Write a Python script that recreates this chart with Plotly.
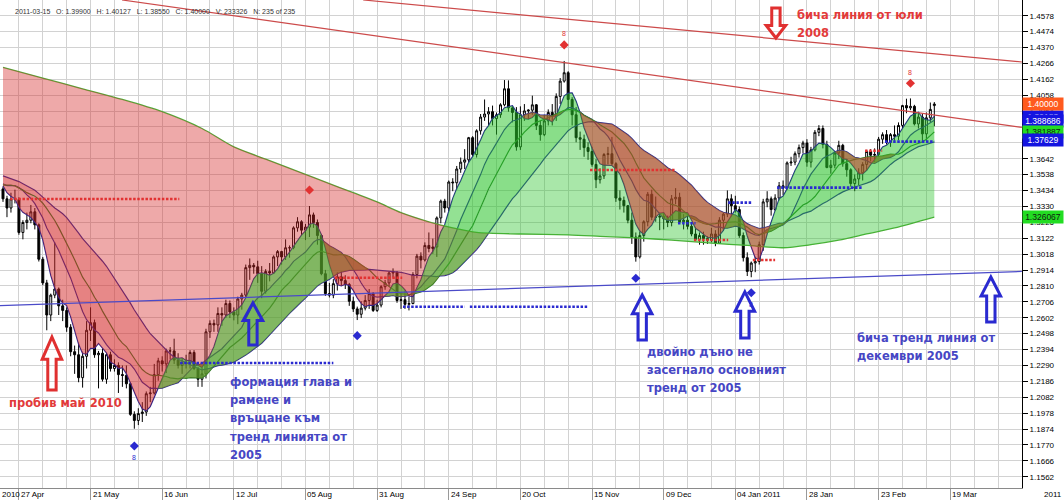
import numpy as np
import pandas as pd
import plotly.graph_objects as go

# ---------------- price data: daily bars 2010-04-21 .. 2011-03-15 (235 bars) ----------------
OPEN = [
    1.3445, 1.3380, 1.3320,
    1.3380, 1.3375, 1.3160, 1.3225, 1.3240,
    1.3295, 1.3210, 1.2985, 1.2830, 1.2620,
    1.2750, 1.2790, 1.2680, 1.2650, 1.2540,
    1.2380, 1.2360, 1.2210, 1.2350, 1.2520,
    1.2570, 1.2360, 1.2370, 1.2200, 1.2360,
    1.2270, 1.2290, 1.2230, 1.2225, 1.2170,
    1.1970, 1.1930, 1.1975, 1.1985, 1.2105,
    1.2110, 1.2230, 1.2320, 1.2300, 1.2385,
    1.2385, 1.2325, 1.2290, 1.2310, 1.2305,
    1.2375, 1.2270, 1.2200, 1.2235, 1.2510,
    1.2565, 1.2555, 1.2630, 1.2620, 1.2695,
    1.2640, 1.2620, 1.2725, 1.2750, 1.2930,
    1.2945, 1.2935, 1.2890, 1.2775, 1.2905,
    1.2895, 1.3000, 1.3035, 1.3000, 1.3060,
    1.3060, 1.3190, 1.3230, 1.3175, 1.3195,
    1.3275, 1.3225, 1.3140, 1.2890, 1.2760,
    1.2750, 1.2825, 1.2870, 1.2845, 1.2820,
    1.2710, 1.2660, 1.2625, 1.2665, 1.2715,
    1.2760, 1.2650, 1.2685, 1.2805, 1.2830,
    1.2895, 1.2900, 1.2715, 1.2720, 1.2690,
    1.2695, 1.2885, 1.3005, 1.2980, 1.3075,
    1.3055, 1.3065, 1.3255, 1.3365, 1.3320,
    1.3490, 1.3485, 1.3575, 1.3620, 1.3635,
    1.3780, 1.3670, 1.3825, 1.3915, 1.3935,
    1.3950, 1.3905, 1.3930, 1.3995, 1.4100,
    1.3975, 1.3945, 1.3720, 1.3930, 1.3955,
    1.3960, 1.3995, 1.3860, 1.3800, 1.3890,
    1.3945, 1.3920, 1.4050, 1.4150, 1.4205,
    1.4030, 1.3930, 1.3780, 1.3770, 1.3715,
    1.3690, 1.3605, 1.3505, 1.3530, 1.3670,
    1.3675, 1.3610, 1.3385, 1.3370, 1.3335,
    1.3240, 1.3130, 1.3000, 1.3140, 1.3230,
    1.3410, 1.3260, 1.3260, 1.3265, 1.3250,
    1.3225, 1.3380, 1.3390, 1.3230, 1.3240,
    1.3200, 1.3150, 1.3115, 1.3140, 1.3120,
    1.3110, 1.3150, 1.3090, 1.3240, 1.3280,
    1.3380, 1.3335, 1.3310, 1.3140, 1.2995,
    1.2905, 1.2960, 1.2970, 1.3080, 1.3360,
    1.3380, 1.3310, 1.3385, 1.3465, 1.3450,
    1.3615, 1.3620, 1.3675, 1.3715, 1.3745,
    1.3620, 1.3700, 1.3815, 1.3840, 1.3735,
    1.3585, 1.3600, 1.3680, 1.3730, 1.3610,
    1.3570, 1.3480, 1.3510, 1.3550, 1.3605,
    1.3690, 1.3665, 1.3670, 1.3770, 1.3800,
    1.3750, 1.3800, 1.3790, 1.3860, 1.3990,
    1.3975, 1.3985, 1.3870, 1.3915, 1.3805,
    1.3910, 1.3990,
]
HIGH = [
    1.3460, 1.3400, 1.3420,
    1.3440, 1.3390, 1.3240, 1.3290, 1.3340,
    1.3320, 1.3220, 1.3000, 1.2850, 1.2760,
    1.3095, 1.2800, 1.2720, 1.2670, 1.2560,
    1.2420, 1.2440, 1.2380, 1.2580, 1.2670,
    1.2590, 1.2385, 1.2400, 1.2370, 1.2380,
    1.2330, 1.2310, 1.2290, 1.2290, 1.2180,
    1.1990, 1.2010, 1.2050, 1.2120, 1.2150,
    1.2300, 1.2340, 1.2350, 1.2400, 1.2410,
    1.2465, 1.2370, 1.2335, 1.2360, 1.2390,
    1.2390, 1.2280, 1.2275, 1.2530, 1.2585,
    1.2590, 1.2670, 1.2670, 1.2720, 1.2715,
    1.2670, 1.2740, 1.2765, 1.2950, 1.2990,
    1.2960, 1.2975, 1.2940, 1.2920, 1.2960,
    1.3010, 1.3045, 1.3040, 1.3115, 1.3075,
    1.3200, 1.3260, 1.3240, 1.3215, 1.3333,
    1.3290, 1.3245, 1.3150, 1.2915, 1.2830,
    1.2855, 1.2900, 1.2905, 1.2880, 1.2830,
    1.2740, 1.2675, 1.2710, 1.2750, 1.2790,
    1.2770, 1.2720, 1.2815, 1.2850, 1.2905,
    1.2925, 1.2905, 1.2770, 1.2780, 1.2740,
    1.2900, 1.3020, 1.3030, 1.3095, 1.3160,
    1.3120, 1.3265, 1.3375, 1.3380, 1.3500,
    1.3515, 1.3595, 1.3650, 1.3705, 1.3785,
    1.3790, 1.3835, 1.3935, 1.4030, 1.3980,
    1.3990, 1.3945, 1.4005, 1.4157, 1.4155,
    1.3985, 1.3980, 1.3985, 1.4000, 1.3965,
    1.4055, 1.4000, 1.3890, 1.3930, 1.3965,
    1.4000, 1.4070, 1.4170, 1.4282, 1.4215,
    1.4045, 1.3980, 1.3820, 1.3800, 1.3750,
    1.3720, 1.3640, 1.3580, 1.3680, 1.3720,
    1.3785, 1.3620, 1.3435, 1.3395, 1.3340,
    1.3290, 1.3160, 1.3165, 1.3240, 1.3425,
    1.3440, 1.3395, 1.3290, 1.3290, 1.3270,
    1.3405, 1.3450, 1.3420, 1.3280, 1.3270,
    1.3220, 1.3195, 1.3160, 1.3165, 1.3135,
    1.3190, 1.3175, 1.3260, 1.3290, 1.3435,
    1.3410, 1.3400, 1.3330, 1.3160, 1.3030,
    1.2970, 1.3000, 1.3100, 1.3380, 1.3430,
    1.3395, 1.3410, 1.3490, 1.3500, 1.3625,
    1.3655, 1.3690, 1.3735, 1.3760, 1.3770,
    1.3720, 1.3830, 1.3862, 1.3860, 1.3760,
    1.3635, 1.3690, 1.3760, 1.3740, 1.3640,
    1.3580, 1.3540, 1.3580, 1.3620, 1.3700,
    1.3705, 1.3710, 1.3785, 1.3815, 1.3830,
    1.3810, 1.3860, 1.3880, 1.3995, 1.4035,
    1.4037, 1.3995, 1.3945, 1.3935, 1.3945,
    1.4010, 1.4013,
]
LOW = [
    1.3360, 1.3260, 1.3290,
    1.3350, 1.3145, 1.3115, 1.3180, 1.3220,
    1.3180, 1.2970, 1.2815, 1.2520, 1.2580,
    1.2730, 1.2620, 1.2580, 1.2510, 1.2350,
    1.2235, 1.2180, 1.2145, 1.2270, 1.2450,
    1.2340, 1.2140, 1.2185, 1.2170, 1.2250,
    1.2250, 1.2110, 1.2150, 1.2140, 1.1960,
    1.1876, 1.1900, 1.1920, 1.1960, 1.2050,
    1.2100, 1.2190, 1.2250, 1.2240, 1.2330,
    1.2300, 1.2270, 1.2235, 1.2270, 1.2270,
    1.2260, 1.2150, 1.2150, 1.2205, 1.2470,
    1.2510, 1.2510, 1.2550, 1.2600, 1.2600,
    1.2585, 1.2560, 1.2655, 1.2735, 1.2850,
    1.2890, 1.2830, 1.2730, 1.2760, 1.2840,
    1.2890, 1.2940, 1.2950, 1.2980, 1.2995,
    1.3050, 1.3165, 1.3140, 1.3110, 1.3130,
    1.3190, 1.3080, 1.2880, 1.2745, 1.2735,
    1.2730, 1.2780, 1.2810, 1.2790, 1.2680,
    1.2640, 1.2587, 1.2600, 1.2650, 1.2660,
    1.2640, 1.2640, 1.2670, 1.2785, 1.2810,
    1.2865, 1.2700, 1.2660, 1.2660, 1.2650,
    1.2690, 1.2860, 1.2925, 1.2970, 1.3030,
    1.3020, 1.3000, 1.3220, 1.3290, 1.3300,
    1.3430, 1.3440, 1.3550, 1.3575, 1.3620,
    1.3655, 1.3650, 1.3800, 1.3890, 1.3860,
    1.3860, 1.3800, 1.3910, 1.3985, 1.3950,
    1.3880, 1.3695, 1.3700, 1.3890, 1.3900,
    1.3930, 1.3830, 1.3760, 1.3790, 1.3860,
    1.3860, 1.3890, 1.4000, 1.4140, 1.3965,
    1.3860, 1.3750, 1.3700, 1.3655, 1.3635,
    1.3590, 1.3450, 1.3480, 1.3510, 1.3605,
    1.3600, 1.3360, 1.3310, 1.3290, 1.3220,
    1.3085, 1.2969, 1.2990, 1.3100, 1.3200,
    1.3240, 1.3230, 1.3175, 1.3180, 1.3195,
    1.3200, 1.3345, 1.3220, 1.3180, 1.3180,
    1.3135, 1.3105, 1.3080, 1.3080, 1.3085,
    1.3095, 1.3070, 1.3085, 1.3170, 1.3260,
    1.3265, 1.3290, 1.3125, 1.2970, 1.2875,
    1.2867, 1.2900, 1.2950, 1.3040, 1.3325,
    1.3270, 1.3300, 1.3370, 1.3405, 1.3440,
    1.3595, 1.3600, 1.3650, 1.3680, 1.3590,
    1.3585, 1.3690, 1.3790, 1.3710, 1.3580,
    1.3545, 1.3580, 1.3640, 1.3590, 1.3525,
    1.3460, 1.3430, 1.3470, 1.3500, 1.3565,
    1.3625, 1.3620, 1.3655, 1.3740, 1.3735,
    1.3720, 1.3760, 1.3765, 1.3840, 1.3940,
    1.3960, 1.3860, 1.3840, 1.3760, 1.3760,
    1.3880, 1.3855,
]
CLOSE = [
    1.3380, 1.3320, 1.3380,
    1.3375, 1.3160, 1.3225, 1.3240, 1.3295,
    1.3210, 1.2985, 1.2830, 1.2620, 1.2750,
    1.2790, 1.2680, 1.2650, 1.2540, 1.2380,
    1.2360, 1.2210, 1.2350, 1.2520, 1.2570,
    1.2360, 1.2370, 1.2200, 1.2360, 1.2270,
    1.2290, 1.2230, 1.2225, 1.2170, 1.1970,
    1.1930, 1.1975, 1.1985, 1.2105, 1.2110,
    1.2230, 1.2320, 1.2300, 1.2385, 1.2385,
    1.2325, 1.2290, 1.2310, 1.2305, 1.2375,
    1.2270, 1.2200, 1.2235, 1.2510, 1.2565,
    1.2555, 1.2630, 1.2620, 1.2695, 1.2640,
    1.2620, 1.2725, 1.2750, 1.2930, 1.2945,
    1.2935, 1.2890, 1.2775, 1.2905, 1.2895,
    1.3000, 1.3035, 1.3000, 1.3060, 1.3060,
    1.3190, 1.3230, 1.3175, 1.3195, 1.3275,
    1.3225, 1.3140, 1.2890, 1.2760, 1.2750,
    1.2825, 1.2870, 1.2845, 1.2820, 1.2710,
    1.2660, 1.2625, 1.2665, 1.2715, 1.2760,
    1.2650, 1.2685, 1.2805, 1.2830, 1.2895,
    1.2900, 1.2715, 1.2720, 1.2690, 1.2695,
    1.2885, 1.3005, 1.2980, 1.3075, 1.3055,
    1.3065, 1.3255, 1.3365, 1.3320, 1.3490,
    1.3485, 1.3575, 1.3620, 1.3635, 1.3780,
    1.3670, 1.3825, 1.3915, 1.3935, 1.3950,
    1.3905, 1.3930, 1.3995, 1.4100, 1.3975,
    1.3945, 1.3720, 1.3930, 1.3955, 1.3960,
    1.3995, 1.3860, 1.3800, 1.3890, 1.3945,
    1.3920, 1.4050, 1.4150, 1.4205, 1.4030,
    1.3930, 1.3780, 1.3770, 1.3715, 1.3690,
    1.3605, 1.3505, 1.3530, 1.3670, 1.3675,
    1.3610, 1.3385, 1.3370, 1.3335, 1.3240,
    1.3130, 1.3000, 1.3140, 1.3230, 1.3410,
    1.3260, 1.3260, 1.3265, 1.3250, 1.3225,
    1.3380, 1.3390, 1.3230, 1.3240, 1.3200,
    1.3150, 1.3115, 1.3140, 1.3120, 1.3110,
    1.3150, 1.3090, 1.3240, 1.3280, 1.3380,
    1.3335, 1.3310, 1.3140, 1.2995, 1.2905,
    1.2960, 1.2970, 1.3080, 1.3360, 1.3380,
    1.3310, 1.3385, 1.3465, 1.3450, 1.3615,
    1.3620, 1.3675, 1.3715, 1.3745, 1.3620,
    1.3700, 1.3815, 1.3840, 1.3735, 1.3585,
    1.3600, 1.3680, 1.3730, 1.3610, 1.3570,
    1.3480, 1.3510, 1.3550, 1.3605, 1.3690,
    1.3665, 1.3670, 1.3770, 1.3800, 1.3750,
    1.3800, 1.3790, 1.3860, 1.3990, 1.3975,
    1.3985, 1.3870, 1.3915, 1.3805, 1.3910,
    1.3965, 1.4000,
]
assert len(OPEN) == len(HIGH) == len(LOW) == len(CLOSE) == 235

# closes of the 33 sessions before the first visible bar (indicator warm-up only)
WARMUP_CLOSE = [
    1.3620, 1.3630, 1.3610, 1.3635, 1.3705, 1.3760, 1.3665, 1.3760, 1.3745, 1.3615,
    1.3530, 1.3525, 1.3500, 1.3320, 1.3305, 1.3415, 1.3480, 1.3410, 1.3510, 1.3570,
    1.3495, 1.3480, 1.3370, 1.3365, 1.3330, 1.3485, 1.3605, 1.3605, 1.3645, 1.3550,
    1.3495, 1.3460, 1.3445,
]

BARS = np.arange(len(CLOSE))

# moving-average ribbon periods and slow average
MA_PERIODS = [5, 13, 20, 34]
MA_LINE_COLORS = ["#23238f", "#2a2a9a", "#2b7f2b", "#2a2a9a"]
SLOW_BAR = [0, 10, 20, 30, 40, 50, 58, 66, 75, 82, 88, 94, 100, 107, 113, 119, 130,
            142, 150, 159, 168, 178, 187, 196, 203, 210, 217, 224, 234]
SLOW_VAL = [1.424, 1.417, 1.410, 1.403, 1.395, 1.384, 1.372, 1.364, 1.355, 1.348, 1.342,
            1.336, 1.329, 1.323, 1.319, 1.316, 1.315, 1.3144, 1.3135, 1.3124, 1.311,
            1.309, 1.3075, 1.306, 1.308, 1.311, 1.315, 1.319, 1.3261]

# trend lines (bar, price) -> (bar, price)
TL_X0 = [29.9, 90.5, -1.0]
TL_Y0 = [1.4681, 1.4681, 1.2681]
TL_X1 = [256.0, 256.0, 256.0]
TL_Y1 = [1.3847, 1.4275, 1.2905]
TL_COLOR = ["#cc4a4a", "#cc4a4a", "#4a4ac8"]

# dotted support / resistance levels
LV_START = [1.8, 44.5, 83.4, 100.5, 117.3, 147.5, 169.6, 173.6, 182.2, 188.4, 194.5, 216.6, 221.6]
LV_END = [44.3, 83.0, 100.3, 116.0, 147.0, 169.0, 174.0, 182.2, 188.2, 194.0, 216.0, 220.9, 234.0]
LV_PRICE = [1.3379, 1.2306, 1.2864, 1.2674, 1.2674, 1.3569, 1.3220, 1.3111, 1.3355, 1.2980,
            1.3453, 1.3695, 1.3754]
LV_COLOR = ["r", "b", "r", "b", "b", "r", "b", "r", "b", "r", "b", "r", "b"]

# diamond signals
DM_BAR = [77, 33, 89, 141, 159, 188, 228]
DM_PRICE = [1.3438, 1.1763, 1.2485, 1.4387, 1.2860, 1.2766, 1.4136]
DM_COLOR = ["r", "b", "b", "r", "b", "b", "r"]
EIGHT_BAR = [33, 141, 188, 228]
EIGHT_PRICE = [1.1685, 1.4463, 1.2686, 1.4205]
EIGHT_COLOR = ["b", "r", "b", "r"]

# hollow block arrows: bar, tail price, tip price
AR_BAR = [12.3, 62.8, 160.6, 186.4, 248.2, 194.2]
AR_TAIL = [1.2129, 1.2424, 1.2457, 1.2470, 1.2574, 1.4629]
AR_TIP = [1.2476, 1.2699, 1.2751, 1.2771, 1.2869, 1.4432]
AR_COLOR = ["r", "b", "b", "b", "b", "r"]

# annotation text lines
TX_LINES = ["бича линия от юли", "2008", "пробив май 2010",
            "формация глава и", "рамене и", "връщане към", "тренд линията от", "2005",
            "двойно дъно не", "засегнало основният", "тренд от 2005",
            "бича тренд линия от", "декември 2005"]
TX_BAR = [199.0, 199.0, 1.0, 56.5, 56.5, 56.5, 56.5, 56.5, 161.3, 161.3, 161.3, 214.0, 214.0]
TX_PRICE = [1.4583, 1.4465, 1.2044, 1.2182, 1.2064, 1.1946, 1.1822, 1.1704,
            1.2378, 1.2260, 1.2143, 1.2470, 1.2352]
TX_COLOR = ["r", "r", "r", "b", "b", "b", "b", "b", "b", "b", "b", "b", "b"]

# right-hand value boxes
RL_TEXT = ["1.39183", "1.388686", "1.381887", "1.37629", "1.326067", "1.40000"]
RL_KIND = ["blue", "blue", "green", "blue", "green", "orange"]

Y_TICK_LABELS = ["1.1562", "1.1666", "1.1770", "1.1874", "1.1978", "1.2082", "1.2186",
                 "1.2290", "1.2394", "1.2498", "1.2602", "1.2706", "1.2810", "1.2914",
                 "1.3018", "1.3122", "1.3226", "1.3330", "1.3434", "1.3538", "1.3642",
                 "1.3746", "1.3850", "1.3954", "1.4058", "1.4162", "1.4266", "1.4370",
                 "1.4474", "1.4578", "1.4682"]
X_LABEL_BARS = [4, 22, 40, 58, 76, 94, 112, 130, 148, 166, 184, 202, 220, 238]
X_LABELS = ["27 Apr", "21 May", "16 Jun", "12 Jul", "05 Aug", "31 Aug", "24 Sep",
            "20 Oct", "15 Nov", "09 Dec", "04 Jan 2011", "28 Jan", "23 Feb", "19 Mar"]
INFO = ("2011-03-15\u00a0\u00a0 O: 1.39900\u00a0\u00a0 H: 1.40127\u00a0\u00a0 L: 1.38550\u00a0\u00a0 "
        "C: 1.40000\u00a0\u00a0 V: 233326\u00a0\u00a0 N: 235 of 235")

# ---------------- styling ----------------
RED_RGB = (212, 40, 40)
GREEN_RGB = (40, 195, 40)
COL = {"r": "#e23232", "b": "#2a2ad0"}
TXT_COL = {"r": "#e23a3a", "b": "#4646c4"}
X_RANGE = [-0.754, 256.03]
Y_RANGE = [1.14883, 1.46807]


def rgba(c, a):
    return "rgba(%d,%d,%d,%.3f)" % (c[0], c[1], c[2], a)


def band_pieces(xf, yf, xs, ys):
    xf = np.asarray(xf, float); yf = np.asarray(yf, float)
    xs = np.asarray(xs, float); ys = np.asarray(ys, float)
    lo, hi = max(xf[0], xs[0]), min(xf[-1], xs[-1])
    grid = np.union1d(xf, xs)
    grid = grid[(grid >= lo) & (grid <= hi)]
    diff = np.interp(grid, xf, yf) - np.interp(grid, xs, ys)
    cuts = [lo]
    for i in range(1, len(grid)):
        if (diff[i] >= 0) != (diff[i - 1] >= 0):
            t = diff[i - 1] / (diff[i - 1] - diff[i])
            cuts.append(grid[i - 1] + t * (grid[i] - grid[i - 1]))
    cuts.append(hi)
    out = []
    for a, b in zip(cuts[:-1], cuts[1:]):
        if b - a < 1e-6:
            continue
        m = 0.5 * (a + b)
        up = np.interp(m, xf, yf) >= np.interp(m, xs, ys)

        def clip(x, y):
            k = (x > a) & (x < b)
            return (np.concatenate([[a], x[k], [b]]),
                    np.concatenate([[np.interp(a, x, y)], y[k], [np.interp(b, x, y)]]))
        out.append((clip(xs, ys), clip(xf, yf), up))
    return out


full_close = pd.Series(WARMUP_CLOSE + CLOSE, dtype=float)
n_warm = len(WARMUP_CLOSE)
MAS = [full_close.rolling(p, min_periods=1).mean().to_numpy()[n_warm:] for p in MA_PERIODS]

fig = go.Figure()

# candles
fig.add_trace(go.Candlestick(
    x=BARS, open=OPEN, high=HIGH, low=LOW, close=CLOSE,
    increasing=dict(line=dict(color="black", width=1), fillcolor="white"),
    decreasing=dict(line=dict(color="black", width=1), fillcolor="black"),
    whiskerwidth=0, hoverinfo="skip", showlegend=False))

# MA lines (under the ribbon fills)
for ma, c in zip(MAS, MA_LINE_COLORS):
    fig.add_trace(go.Scatter(x=BARS, y=ma, mode="lines", line=dict(color=c, width=1.2),
                             hoverinfo="skip", showlegend=False))
fig.add_trace(go.Scatter(x=SLOW_BAR, y=SLOW_VAL, mode="lines",
                         line=dict(color="#4fae3a", width=1.3, shape="spline", smoothing=0.8),
                         hoverinfo="skip", showlegend=False))

# ribbon fills: (faster x, faster y, slower x, slower y, alpha, slower is spline)
pairs = [
    (BARS, MAS[3], SLOW_BAR, SLOW_VAL, 0.40, True),
    (BARS, MAS[2], BARS, MAS[3], 0.55, False),
    (BARS, MAS[1], BARS, MAS[2], 0.58, False),
    (BARS, MAS[0], BARS, MAS[1], 0.50, False),
]
for xf, yf, xs, ys, alpha, spl in pairs:
    for (px_s, py_s), (px_f, py_f), up in band_pieces(xf, yf, xs, ys):
        col = rgba(GREEN_RGB if up else RED_RGB, alpha)
        fig.add_trace(go.Scatter(x=px_s, y=py_s, mode="lines",
                                 line=dict(width=0, shape="spline" if spl else "linear",
                                           smoothing=0.8),
                                 hoverinfo="skip", showlegend=False))
        fig.add_trace(go.Scatter(x=px_f, y=py_f, mode="lines", line=dict(width=0),
                                 fill="tonexty", fillcolor=col,
                                 hoverinfo="skip", showlegend=False))

# trend lines
for x0, y0, x1, y1, c in zip(TL_X0, TL_Y0, TL_X1, TL_Y1, TL_COLOR):
    fig.add_trace(go.Scatter(x=[x0, x1], y=[y0, y1], mode="lines",
                             line=dict(color=c, width=1.2), hoverinfo="skip", showlegend=False))

# dotted levels
for s, e, p, k in zip(LV_START, LV_END, LV_PRICE, LV_COLOR):
    fig.add_trace(go.Scatter(x=[s, e], y=[p, p], mode="lines",
                             line=dict(color=COL[k], width=2.6, dash="2.5px,1.6px"),
                             hoverinfo="skip", showlegend=False))

# diamonds
fig.add_trace(go.Scatter(x=DM_BAR, y=DM_PRICE, mode="markers",
                         marker=dict(symbol="diamond", size=7, color=[COL[k] for k in DM_COLOR]),
                         hoverinfo="skip", showlegend=False))

annotations = []
for b, p, k in zip(EIGHT_BAR, EIGHT_PRICE, EIGHT_COLOR):
    annotations.append(dict(x=b, y=p, xref="x", yref="y", text="8", showarrow=False,
                            font=dict(size=7, color=COL[k], family="Liberation Sans")))

# arrows (hollow block arrows)
HEAD_HALF = 2.45   # bars
SHAFT_HALF = 1.05  # bars
shapes = []
for b, tail, tip, k in zip(AR_BAR, AR_TAIL, AR_TIP, AR_COLOR):
    L = tip - tail
    hl = 0.42 * L
    neck = tip - hl
    pts = [(b, tip), (b + HEAD_HALF, neck), (b + SHAFT_HALF, neck), (b + SHAFT_HALF, tail),
           (b - SHAFT_HALF, tail), (b - SHAFT_HALF, neck), (b - HEAD_HALF, neck)]
    path = "M " + " L ".join("%.4f,%.5f" % q for q in pts) + " Z"
    shapes.append(dict(type="path", xref="x", yref="y", path=path,
                       line=dict(color=COL[k] if k == "b" else "#e03030", width=3),
                       fillcolor="rgba(0,0,0,0)"))

# bold texts
for t, b, p, k in zip(TX_LINES, TX_BAR, TX_PRICE, TX_COLOR):
    annotations.append(dict(x=b, y=p, xref="x", yref="y", text="<b>%s</b>" % t,
                            showarrow=False, xanchor="left", yanchor="middle",
                            font=dict(size=11.5, color=TXT_COL[k], family="DejaVu Sans")))

# right value boxes
RL_STYLE = {"blue": ("#1414e0", "white"), "green": ("#22dd22", "#102010"),
            "orange": ("#ff5a1e", "white")}
for t, kind in zip(RL_TEXT, RL_KIND):
    bg, fc = RL_STYLE[kind]
    annotations.append(dict(x=1.0, y=float(t), xref="paper", yref="y", text=t,
                            showarrow=False, xanchor="left", yanchor="middle",
                            bgcolor=bg, width=38, height=10, borderpad=1,
                            font=dict(size=8.5, color=fc, family="Liberation Sans")))

# x labels (left-aligned after tick)
for b, t in zip(X_LABEL_BARS, X_LABELS):
    annotations.append(dict(x=b, y=0, xref="x", yref="paper", text=t, showarrow=False,
                            xanchor="left", yanchor="top", xshift=0, yshift=0,
                            font=dict(size=8, color="black", family="Liberation Sans")))
annotations.append(dict(x=0, y=0, xref="paper", yref="paper", text="2010", showarrow=False,
                        xanchor="left", yanchor="top", yshift=0,
                        font=dict(size=8, color="black", family="Liberation Sans")))
annotations.append(dict(x=1 + 42 / 1022, y=0, xref="paper", yref="paper", text="2011",
                        showarrow=False, xanchor="right", yanchor="top", yshift=0,
                        font=dict(size=8, color="black", family="Liberation Sans")))
annotations.append(dict(x=13 / 1022, y=1 - 11 / 488, xref="paper", yref="paper", text=INFO,
                        showarrow=False, xanchor="left", yanchor="middle",
                        font=dict(size=7, color="#333333", family="Liberation Sans")))

fig.update_layout(
    width=1064, height=500,
    margin=dict(l=0, r=42, t=0, b=12),
    paper_bgcolor="white", plot_bgcolor="white",
    showlegend=False, hovermode=False,
    annotations=annotations, shapes=shapes,
    xaxis=dict(range=X_RANGE, tickmode="array", tickvals=X_LABEL_BARS,
               showticklabels=False, ticks="outside", ticklen=12, tickcolor="#9a9a9a",
               showgrid=True, gridcolor="#d2d2d2", gridwidth=1,
               minor=dict(tickmode="linear", tick0=4, dtick=6, showgrid=True,
                          gridcolor="#d2d2d2", gridwidth=1, ticks=""),
               showline=True, linecolor="#8a8a8a", linewidth=1,
               zeroline=False, rangeslider=dict(visible=False), fixedrange=True),
    yaxis=dict(range=Y_RANGE, side="right", tickmode="array",
               tickvals=[float(s) for s in Y_TICK_LABELS], ticktext=Y_TICK_LABELS,
               ticks="outside", ticklen=5, tickcolor="black",
               tickfont=dict(size=8, color="black", family="Liberation Sans"),
               showline=True, linecolor="black", linewidth=1,
               showgrid=True, gridcolor="#d2d2d2", gridwidth=1,
               zeroline=False, fixedrange=True),
)

fig.write_html("out.html", config={"displayModeBar": False, "staticPlot": True},
               post_script="document.body.style.margin='0px';"
                           "document.body.style.overflow='hidden';")
